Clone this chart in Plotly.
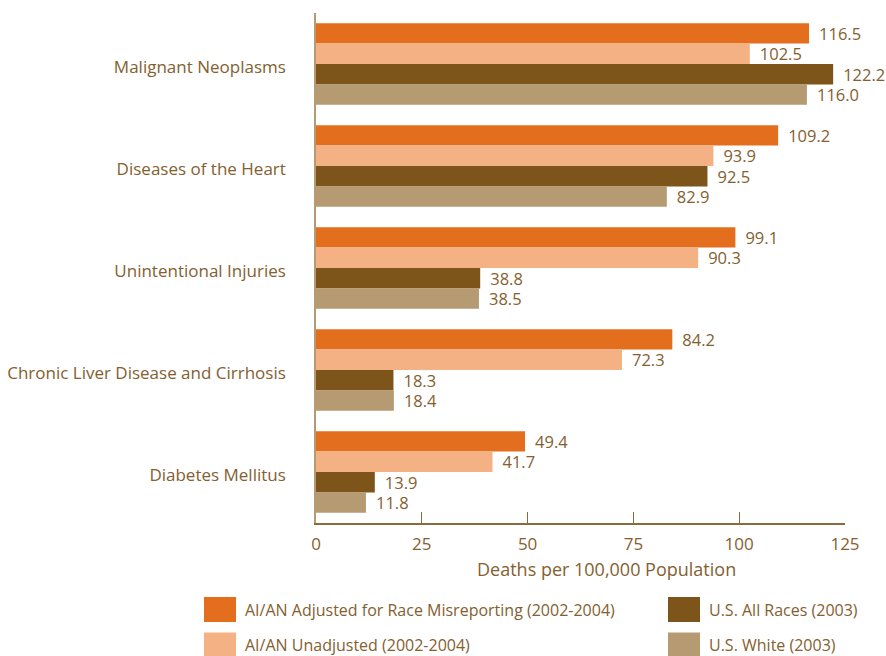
import plotly.graph_objects as go

categories = ["Malignant Neoplasms", "Diseases of the Heart", "Unintentional Injuries",
              "Chronic Liver Disease and Cirrhosis", "Diabetes Mellitus"]
series_names = ["AI/AN Adjusted for Race Misreporting (2002-2004)",
                "AI/AN Unadjusted (2002-2004)",
                "U.S. All Races (2003)",
                "U.S. White (2003)"]
adjusted = [116.5, 109.2, 99.1, 84.2, 49.4]
unadjusted = [102.5, 93.9, 90.3, 72.3, 41.7]
all_races = [122.2, 92.5, 38.8, 18.3, 13.9]
white = [116.0, 82.9, 38.5, 18.4, 11.8]
series_values = [adjusted, unadjusted, all_races, white]
colors = ["#E36F1E", "#F4B183", "#7D5419", "#B59A72"]
tick_vals = [0, 25, 50, 75, 100, 125]
x_title = "Deaths per 100,000 Population"

TXT = "#84602F"
FONT = "Open Sans"
PAD = "\u00a0\u2009"

fig = go.Figure()
for name, vals, col in zip(series_names, series_values, colors):
    fig.add_trace(go.Bar(
        y=categories, x=vals, name=name, orientation="h",
        marker=dict(color=col, line=dict(width=0)),
        text=[f"{PAD}{v:.1f}" for v in vals], textposition="outside",
        constraintext="none",
        textfont=dict(color=TXT, size=16.5, family=FONT),
        cliponaxis=False, showlegend=False,
    ))

PL, PT, PW, PH = 316, 13, 529, 510


def px_x(x):
    return (x - PL) / PW


def px_y(y):
    return (PT + PH - y) / PH


fig.update_layout(
    width=886, height=656,
    margin=dict(l=PL, r=886 - PL - PW, t=PT, b=656 - PT - PH),
    barmode="group", bargap=0.2, bargroupgap=0.0,
    plot_bgcolor="white", paper_bgcolor="white",
    font=dict(family=FONT, color=TXT, size=16),
)
fig.update_xaxes(
    range=[0, 125], tickvals=tick_vals, ticks="inside", ticklen=11,
    tickcolor="#8B6B3D", showline=True, linecolor="#8B6B3D", linewidth=1.5,
    showgrid=False, zeroline=False, tickfont=dict(size=17, color=TXT),
    ticklabelstandoff=5, automargin=False,
)
fig.update_yaxes(
    autorange="reversed", showline=True, linecolor="#B59A72", linewidth=1.5,
    showgrid=False, ticks="", ticklabelstandoff=25, ticklabelshift=-3,
    tickfont=dict(size=17, color=TXT), automargin=False,
)

# axis title
fig.add_annotation(xref="paper", yref="paper", x=px_x(606), y=px_y(569),
                   text=x_title, showarrow=False, xanchor="center", yanchor="middle",
                   font=dict(size=18, color=TXT, family=FONT))

# manual legend
leg_pos = [(204, 609.5), (204, 645), (668, 609.5), (668, 645)]
for (px, py), name, col in zip(leg_pos, series_names, colors):
    fig.add_shape(type="rect", xref="paper", yref="paper",
                  x0=px_x(px), x1=px_x(px + 32),
                  y0=px_y(py + 12.5), y1=px_y(py - 12.5),
                  fillcolor=col, line=dict(width=0))
    fig.add_annotation(xref="paper", yref="paper", x=px_x(px + 39),
                       y=px_y(py), text=name, showarrow=False,
                       xanchor="left", yanchor="middle",
                       font=dict(size=16, color=TXT, family=FONT))

fig.write_html("out.html", config={"displayModeBar": False},
               post_script="document.body.style.margin='0px';")
